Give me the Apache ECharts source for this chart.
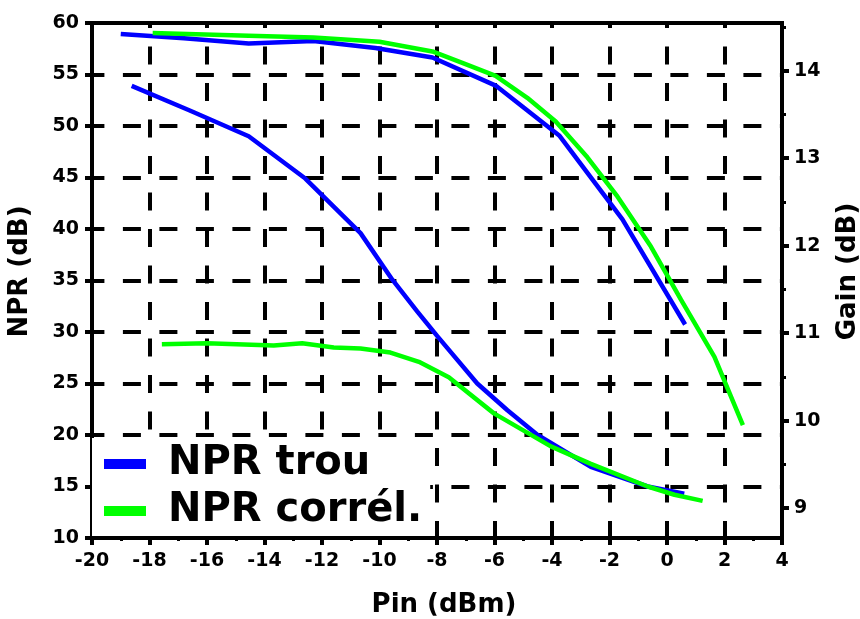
<!DOCTYPE html>
<html>
<head>
<meta charset="utf-8">
<script src="https://cdn.jsdelivr.net/npm/echarts@6/dist/echarts.min.js"></script>
<style>html,body{margin:0;padding:0;background:#fff}#main{width:860px;height:619px}</style>
</head>
<body>
<div id="main"></div>
<script>
// NPR / Gain vs Pin
var myChart = echarts.init(document.getElementById('main'));

var pinTicks = [-20, -18, -16, -14, -12, -10, -8, -6, -4, -2, 0, 2, 4];
var nprTicks = [10, 15, 20, 25, 30, 35, 40, 45, 50, 55, 60];
var gainTicks = [9, 10, 11, 12, 13, 14];
var gainMinor = [9.5, 10.5, 11.5, 12.5, 13.5, 14.5];

// gain curves (right axis)
var pinGainTrou = [-19, -16.8, -14.55, -12.3, -10.14, -8.16, -5.96, -3.75, -1.55, 0.63];
var gainTrou    = [14.42, 14.37, 14.31, 14.34, 14.26, 14.15, 13.83, 13.26, 12.30, 11.10];
var pinGainCorr = [-17.89, -14.55, -12.3, -10.0, -8.16, -7.12, -5.96, -4.86, -3.87, -2.77, -1.72, -0.56, 0.49, 1.65, 2.64];
var gainCorr    = [14.43, 14.40, 14.38, 14.33, 14.22, 14.09, 13.94, 13.69, 13.42, 13.01, 12.56, 11.99, 11.38, 10.73, 9.95];

// NPR curves (left axis)
var pinNprTrou = [-18.62, -16.6, -14.55, -12.58, -10.66, -9.56, -8.69, -7.99, -6.6, -5.55, -4.5, -2.65, -0.67, 0.6];
var nprTrou    = [53.9, 51.5, 49.0, 44.9, 39.6, 35.1, 32.0, 29.6, 25.0, 22.4, 20.0, 16.9, 15.0, 14.3];
var pinNprCorr = [-17.57, -16.0, -13.68, -12.69, -11.59, -10.66, -9.62, -8.63, -7.59, -6.02, -4.04, -2.65, -0.67, 0.26, 1.24];
var nprCorr    = [28.8, 28.9, 28.7, 28.9, 28.5, 28.4, 28.0, 27.1, 25.6, 22.1, 18.9, 17.2, 15.0, 14.2, 13.6];

function pairs(xs, ys) {
    var out = [];
    for (var i = 0; i < xs.length; i++) out.push([xs[i], ys[i]]);
    return out;
}

var font = 'DejaVu Sans';
var labelStyle = {color: '#000', fontFamily: font, fontWeight: 'bold', fontSize: 19};
function nameStyle(pad) {
    return {color: '#000', fontFamily: font, fontWeight: 'bold', fontSize: 26, padding: pad};
}

var option = {
    backgroundColor: '#fff',
    animation: false,
    grid: {left: 92, right: 78, top: 23, bottom: 81, outerBoundsMode: 'none',
           show: true, borderColor: '#000', borderWidth: 4},
    legend: {
        orient: 'vertical', left: 92, top: 438,
        padding: [6, 8, 5, 12],
        backgroundColor: '#fff',
        data: [{name: 'NPR trou', icon: 'rect'}, {name: 'NPR corrél.', icon: 'rect'}],
        itemWidth: 42, itemHeight: 10, itemGap: 7,
        textStyle: {color: '#000', fontFamily: font, fontWeight: 'bold', fontSize: 40, lineHeight: 40, padding: [0, 0, 0, 17]}
    },
    xAxis: {
        type: 'value', min: pinTicks[0], max: pinTicks[pinTicks.length - 1], interval: 2,
        name: 'Pin (dBm)', nameLocation: 'middle', nameGap: 54, nameTextStyle: nameStyle([0, 0, 0, 14]),
        axisLine: {show: true, onZero: false, lineStyle: {color: '#000', width: 4}},
        axisTick: {show: true, length: 7, lineStyle: {color: '#000', width: 4}},
        minorTick: {show: true, splitNumber: 2, length: 3, lineStyle: {color: '#000', width: 3}},
        axisLabel: Object.assign({margin: 14}, labelStyle),
        splitLine: {show: true, lineStyle: {color: '#000', width: 4, type: [18, 18.5], dashOffset: 13}}
    },
    yAxis: [
        {
            type: 'value', min: nprTicks[0], max: nprTicks[nprTicks.length - 1], interval: 5,
            name: 'NPR (dB)', nameLocation: 'middle', nameGap: 59, nameTextStyle: nameStyle([0, 0, 0, 18]),
            axisLine: {show: true, onZero: false, lineStyle: {color: '#000', width: 4}},
            axisTick: {show: true, length: 7, lineStyle: {color: '#000', width: 4}},
            axisLabel: Object.assign({margin: 13}, labelStyle),
            splitLine: {show: true, lineStyle: {color: '#000', width: 4, type: [18, 18.5], dashOffset: 5.6}}
        },
        {
            type: 'value', position: 'right', min: 8.66, max: 14.545,
            name: 'Gain (dB)', nameLocation: 'middle', nameGap: 53, nameTextStyle: nameStyle([0, 0, 0, 18]),
            axisLine: {show: true, onZero: false, lineStyle: {color: '#000', width: 4}},
            axisTick: {show: true, length: 7, customValues: gainTicks, lineStyle: {color: '#000', width: 4}},
            axisLabel: Object.assign({margin: 12, customValues: gainTicks}, labelStyle),
            splitLine: {show: false}
        },
        {
            type: 'value', position: 'right', min: 8.66, max: 14.545,
            axisLine: {show: false, onZero: false},
            axisTick: {show: true, length: 4, customValues: gainMinor, lineStyle: {color: '#000', width: 3}},
            axisLabel: {show: false, customValues: gainMinor},
            splitLine: {show: false}
        }
    ],
    series: [
        {name: 'NPR trou', type: 'line', yAxisIndex: 1, symbol: 'none', color: '#0000ff',
         lineStyle: {width: 4.5}, data: pairs(pinGainTrou, gainTrou)},
        {name: 'NPR trou', type: 'line', yAxisIndex: 0, symbol: 'none', color: '#0000ff',
         lineStyle: {width: 4.5}, data: pairs(pinNprTrou, nprTrou)},
        {name: 'NPR corrél.', type: 'line', yAxisIndex: 1, symbol: 'none', color: '#00ff00',
         lineStyle: {width: 4.5}, data: pairs(pinGainCorr, gainCorr)},
        {name: 'NPR corrél.', type: 'line', yAxisIndex: 0, symbol: 'none', color: '#00ff00',
         lineStyle: {width: 4.5}, data: pairs(pinNprCorr, nprCorr)}
    ]
};

myChart.setOption(option);
</script>
</body>
</html>
